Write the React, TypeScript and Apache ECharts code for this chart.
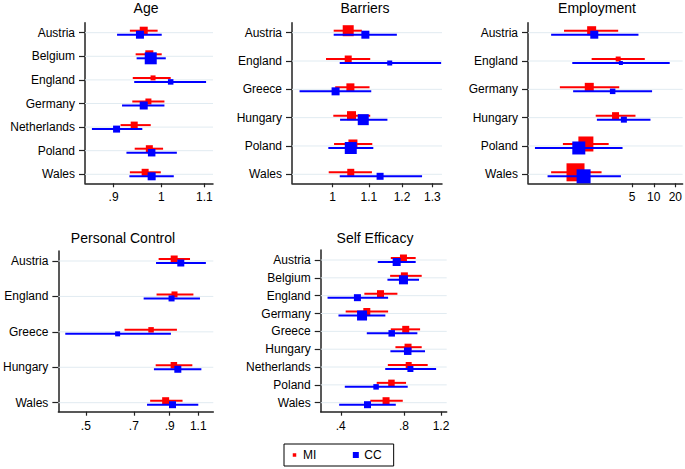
import React, { useEffect, useRef } from "react";
import * as echarts from "echarts";

// ---------- DATA: [estimate, lower CI, upper CI, weight] ----------
const ageCountries = ["Austria", "Belgium", "England", "Germany", "Netherlands", "Poland", "Wales"];
const ageMI = [
  [0.962, 0.933, 0.992, 8],
  [0.974, 0.945, 1.001, 8],
  [0.982, 0.939, 1.021, 5],
  [0.972, 0.938, 1.007, 6],
  [0.942, 0.914, 0.977, 7],
  [0.974, 0.943, 1.004, 7],
  [0.965, 0.933, 0.999, 7],
];
const ageCC = [
  [0.954, 0.907, 1.001, 8],
  [0.977, 0.947, 1.01, 12],
  [1.021, 0.942, 1.104, 5.5],
  [0.962, 0.917, 1.007, 8],
  [0.906, 0.858, 0.959, 7],
  [0.979, 0.926, 1.035, 7.5],
  [0.979, 0.932, 1.028, 8],
];
const ageTicks = [0.9, 1, 1.1];
const ageTickLabels = [".9", "1", "1.1"];

const barCountries = ["Austria", "England", "Greece", "Hungary", "Poland", "Wales"];
const barMI = [
  [1.042, 1.003, 1.08, 11],
  [1.042, 0.983, 1.104, 7],
  [1.048, 1.007, 1.102, 8],
  [1.051, 1.002, 1.104, 9],
  [1.055, 1.004, 1.11, 9],
  [1.049, 0.99, 1.109, 7],
];
const barCC = [
  [1.09, 1.003, 1.184, 8],
  [1.162, 1.019, 1.33, 5],
  [1.008, 0.917, 1.107, 8],
  [1.084, 1.02, 1.155, 11],
  [1.049, 0.989, 1.113, 12],
  [1.133, 1.019, 1.265, 7],
];
const barTicks = [1, 1.1, 1.2, 1.3];
const barTickLabels = ["1", "1.1", "1.2", "1.3"];

const empCountries = ["Austria", "England", "Germany", "Hungary", "Poland", "Wales"];
const empMI = [
  [1.36, 0.56, 3.19, 9],
  [3.19, 1.36, 7.5, 5],
  [1.26, 0.49, 3.3, 9],
  [2.93, 1.55, 5.56, 7],
  [1.13, 0.54, 2.35, 15],
  [0.81, 0.37, 1.87, 18],
];
const empCC = [
  [1.48, 0.37, 6.12, 8],
  [3.48, 0.73, 16.7, 4],
  [2.67, 0.75, 9.48, 5.5],
  [3.83, 1.61, 9.0, 6],
  [0.9, 0.22, 3.67, 13],
  [1.05, 0.33, 3.48, 14],
];
const empTicks = [5, 10, 20];
const empTickLabels = ["5", "10", "20"];

const pcCountries = ["Austria", "England", "Greece", "Hungary", "Wales"];
const pcMI = [
  [0.929, 0.833, 1.038, 7],
  [0.931, 0.821, 1.063, 6],
  [0.79, 0.656, 0.947, 5.5],
  [0.927, 0.816, 1.055, 6.5],
  [0.875, 0.785, 0.985, 7],
];
const pcCC = [
  [0.973, 0.818, 1.16, 7],
  [0.912, 0.75, 1.113, 6],
  [0.625, 0.433, 0.908, 5],
  [0.953, 0.806, 1.124, 7],
  [0.918, 0.768, 1.1, 7],
];
const pcTicks = [0.5, 0.7, 0.9, 1.1];
const pcTickLabels = [".5", ".7", ".9", "1.1"];

const seCountries = ["Austria", "Belgium", "England", "Germany", "Greece", "Hungary", "Netherlands", "Poland", "Wales"];
const seMI = [
  [0.795, 0.692, 0.909, 7],
  [0.803, 0.687, 0.971, 7],
  [0.618, 0.518, 0.744, 7],
  [0.532, 0.422, 0.672, 7],
  [0.815, 0.692, 0.954, 7],
  [0.836, 0.728, 0.971, 7],
  [0.842, 0.67, 1.037, 6],
  [0.697, 0.593, 0.818, 6.5],
  [0.657, 0.553, 0.789, 7],
];
const seCC = [
  [0.738, 0.6, 0.909, 8],
  [0.795, 0.667, 0.943, 9],
  [0.48, 0.346, 0.672, 7],
  [0.505, 0.39, 0.652, 10],
  [0.699, 0.532, 0.926, 6.5],
  [0.833, 0.689, 1.007, 7.5],
  [0.858, 0.651, 1.137, 6],
  [0.589, 0.418, 0.833, 5.5],
  [0.536, 0.393, 0.731, 7],
];
const seTicks = [0.4, 0.8, 1.2];
const seTickLabels = [".4", ".8", "1.2"];

const legendNames = ["MI", "CC"];

// ---------- LAYOUT ----------
const FONT = '"Liberation Sans", Arial, Helvetica, sans-serif';
const RED = "#ff0000";
const BLUE = "#0000ff";

const panels = [
  { title: "Age", countries: ageCountries, mi: ageMI, cc: ageCC, ticks: ageTicks, labels: ageTickLabels,
    xRange: [0.845, 1.121], grid: { left: 85, top: 22.7, width: 128, height: 160.6 }, titleAt: [146, 8] },
  { title: "Barriers", countries: barCountries, mi: barMI, cc: barCC, ticks: barTicks, labels: barTickLabels,
    xRange: [0.899, 1.333], grid: { left: 292, top: 22.7, width: 150, height: 160.6 }, titleAt: [365, 8] },
  { title: "Employment", countries: empCountries, mi: empMI, cc: empCC, ticks: empTicks, labels: empTickLabels,
    xRange: [0.176, 25.3], grid: { left: 528, top: 22.7, width: 155, height: 160.6 }, titleAt: [597, 8] },
  { title: "Personal Control", countries: pcCountries, mi: pcMI, cc: pcCC, ticks: pcTicks, labels: pcTickLabels,
    xRange: [0.4125, 1.222], grid: { left: 57.3, top: 251, width: 156, height: 160.7 }, titleAt: [123, 238] },
  { title: "Self Efficacy", countries: seCountries, mi: seMI, cc: seCC, ticks: seTicks, labels: seTickLabels,
    xRange: [0.321, 1.277], grid: { left: 320.7, top: 250, width: 126, height: 161.7 }, titleAt: [375, 238] },
];

const makeRender = (color: string, dy: number) => (params: any, api: any) => {
  const row = api.value(1);
  const c = api.coord([api.value(0), row]);
  const lo = api.coord([api.value(2), row]);
  const hi = api.coord([api.value(3), row]);
  const s = api.value(4);
  const y = c[1] + dy;
  return {
    type: "group",
    children: [
      { type: "line", shape: { x1: lo[0], y1: y, x2: hi[0], y2: y }, style: { stroke: color, lineWidth: 2 } },
      { type: "rect", shape: { x: c[0] - s / 2, y: y - s / 2, width: s, height: s }, style: { fill: color } },
    ],
  };
};

const gridLineRender = (params: any, api: any) => {
  const cs = params.coordSys;
  const p = api.coord([api.value(0), api.value(1)]);
  return {
    type: "line",
    shape: { x1: cs.x, y1: p[1], x2: cs.x + cs.width, y2: p[1] },
    style: { stroke: "#e1ebf1", lineWidth: 1 },
  };
};

export default function App() {
  const ref = useRef<HTMLDivElement>(null);
  useEffect(() => {
    if (!ref.current) return;
    const chart = echarts.init(ref.current, undefined, { renderer: "svg" });
    const grids: any[] = [];
    const xAxes: any[] = [];
    const yAxes: any[] = [];
    const series: any[] = [];
    const graphics: any[] = [];
    panels.forEach((p, k) => {
      const n = p.countries.length;
      const spacing = (p.grid.height - 19) / (n - 1);
      grids.push({ ...p.grid, containLabel: false });
      const tickLn = p.ticks.map((t) => Math.log(t));
      xAxes.push({
        type: "value",
        gridIndex: k,
        min: Math.log(p.xRange[0]),
        max: Math.log(p.xRange[1]),
        axisLine: { show: true, onZero: false, lineStyle: { color: "#222", width: 1.5 } },
        axisTick: { show: true, length: 4, customValues: tickLn, lineStyle: { color: "#222", width: 1.2 } },
        axisLabel: {
          customValues: tickLn,
          margin: 8,
          fontSize: 12,
          fontFamily: FONT,
          color: "#000",
          formatter: (v: number) => {
            let best = 0;
            tickLn.forEach((t, i) => {
              if (Math.abs(t - v) < Math.abs(tickLn[best] - v)) best = i;
            });
            return p.labels[best];
          },
        },
        splitLine: { show: false },
      });
      const rows = p.countries.map((_, i) => i + 1);
      yAxes.push({
        type: "value",
        gridIndex: k,
        inverse: true,
        min: 1 - 10 / spacing,
        max: n + 9 / spacing,
        axisLine: { show: true, onZero: false, lineStyle: { color: "#222", width: 1.5 } },
        axisTick: { show: true, length: 6, customValues: rows, lineStyle: { color: "#222", width: 1.2 } },
        axisLabel: {
          customValues: rows,
          margin: 10,
          fontSize: 12,
          fontFamily: FONT,
          color: "#000",
          formatter: (v: number) => p.countries[Math.round(v) - 1] ?? "",
        },
        splitLine: { show: false },
      });
      series.push({
        type: "custom",
        xAxisIndex: k,
        yAxisIndex: k,
        silent: true,
        z: 1,
        renderItem: gridLineRender,
        data: rows.map((r) => [Math.log(p.xRange[0]), r]),
      });
      const toData = (arr: number[][]) =>
        arr.map((d, i) => [Math.log(d[0]), i + 1, Math.log(d[1]), Math.log(d[2]), d[3]]);
      series.push({
        type: "custom",
        name: legendNames[0],
        xAxisIndex: k,
        yAxisIndex: k,
        z: 2,
        itemStyle: { color: RED },
        renderItem: makeRender(RED, -2),
        data: toData(p.mi),
      });
      series.push({
        type: "custom",
        name: legendNames[1],
        xAxisIndex: k,
        yAxisIndex: k,
        z: 3,
        itemStyle: { color: BLUE },
        renderItem: makeRender(BLUE, 2),
        data: toData(p.cc),
      });
      graphics.push({
        type: "text",
        x: p.titleAt[0],
        y: p.titleAt[1],
        style: {
          text: p.title,
          fontSize: 14,
          fontFamily: FONT,
          fill: "#000",
          align: "center",
          verticalAlign: "middle",
          textAlign: "center",
          textVerticalAlign: "middle",
        },
      });
    });
    chart.setOption({
      animation: false,
      backgroundColor: "#ffffff",
      grid: grids,
      xAxis: xAxes,
      yAxis: yAxes,
      series,
      graphic: graphics,
      legend: {
        data: [
          { name: legendNames[0], icon: "path://M0,0M7,7M1.75,1.75L5.25,1.75L5.25,5.25L1.75,5.25Z" },
          { name: legendNames[1], icon: "path://M0,0M7,7M0.5,0.5L6.5,0.5L6.5,6.5L0.5,6.5Z" },
        ],
        left: 284,
        top: 444,
        itemWidth: 7,
        itemHeight: 7,
        itemGap: 36,
        borderColor: "#000",
        borderWidth: 1,
        borderRadius: 0,
        padding: [5, 12, 5, 7],
        selectedMode: false,
        textStyle: { fontSize: 12, fontFamily: FONT, color: "#000" },
      },
    });
    return () => chart.dispose();
  }, []);
  return (
    <div
      ref={ref}
      style={{ position: "absolute", left: 0, top: 0, width: 685, height: 469, background: "#fff" }}
    />
  );
}
